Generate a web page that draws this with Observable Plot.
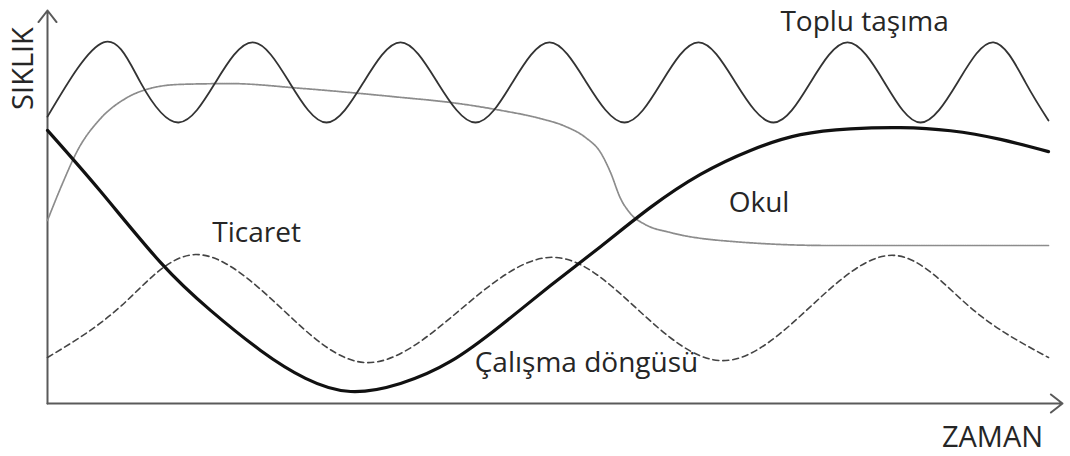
<!DOCTYPE html>
<html>
<head>
<meta charset="utf-8">
<script src="https://cdn.jsdelivr.net/npm/d3@7"></script>
<script src="https://cdn.jsdelivr.net/npm/@observablehq/plot@0.6"></script>
<style>
  html, body { margin: 0; padding: 0; background: #fff; }
  #chart svg { display: block; }
</style>
</head>
<body>
<div id="chart"></div>
<script>
// ---- Data (time on x 0–100, frequency on y 0–100) ----
const seriesNames = ["Toplu taşıma", "Okul", "Ticaret", "Çalışma döngüsü"];
const axisTitles = { y: "SIKLIK", x: "ZAMAN" };

// Toplu taşıma (public transport) – regular oscillation
const topluT = [0, 5.52, 9.16, 12.91, 16.55, 20.20, 23.84, 27.49, 31.13, 34.78, 38.42, 42.17, 45.81, 49.46, 53.10, 56.85, 60.49, 64.14, 67.78, 71.53, 75.17, 78.82, 82.46, 86.01, 89.66, 93.20, 96.35, 98.62];
const topluF = [73.0, 91.9, 81.7, 71.5, 81.7, 91.9, 81.7, 71.5, 81.7, 91.9, 81.7, 71.5, 81.7, 91.9, 81.7, 71.5, 81.7, 91.9, 81.7, 71.5, 81.7, 91.9, 81.7, 71.5, 81.7, 91.9, 81.7, 72.0];

// Okul (school) – rises, plateaus, drops
const okulT = [0, 1.48, 2.96, 5.22, 7.68, 10.15, 13.10, 18.03, 24.93, 34.78, 39.70, 44.63, 48.57, 51.03, 53.00, 54.48, 55.47, 56.45, 57.44, 58.92, 61.38, 67.59, 77.14, 98.62];
const okulF = [46.6, 56.0, 64.4, 72.5, 77.6, 80.2, 81.2, 81.4, 80.2, 77.9, 76.6, 74.6, 72.5, 70.5, 67.7, 63.9, 58.8, 52.2, 48.3, 45.5, 43.5, 41.2, 40.2, 40.2];

// Ticaret (trade) – slower oscillation
const ticaretT = [0, 7.29, 14.58, 23.05, 31.53, 40.59, 49.66, 58.03, 66.50, 74.98, 83.35, 90.94, 98.62];
const ticaretF = [11.7, 24.9, 37.9, 24.2, 10.4, 23.7, 37.2, 24.2, 10.9, 24.2, 37.7, 24.4, 11.7];

// Çalışma döngüsü (work cycle) – long wave
const calismaT = [0, 5.22, 11.13, 16.06, 20.99, 25.42, 29.85, 34.78, 39.70, 44.63, 49.56, 54.48, 59.41, 64.33, 69.26, 74.19, 79.11, 84.04, 88.97, 93.89, 98.62];
const calismaF = [69.5, 54.0, 35.9, 23.7, 13.5, 6.4, 3.05, 5.1, 10.7, 19.8, 30.0, 39.9, 49.9, 58.3, 64.4, 68.4, 69.9, 70.2, 69.4, 67.2, 64.1];

const xDomain = [0, 100];
const yDomain = [0, 100];

// ---- Build tables ----
const zip = (ts, fs) => ts.map((t, i) => ({ t, f: fs[i] }));
const toplu = zip(topluT, topluF);
const okul = zip(okulT, okulF);
const ticaret = zip(ticaretT, ticaretF);
const calisma = zip(calismaT, calismaF);

// Label anchor points (annotation layout, data units)
const labelLayout = [
  { name: seriesNames[0], t: 80.5, f: 97.0 },
  { name: seriesNames[1], t: 70.1, f: 50.9 },
  { name: seriesNames[2], t: 20.6, f: 43.3 },
  { name: seriesNames[3], t: 53.1, f: 10.2 }
];

const axes = [
  { x1: xDomain[0], y1: yDomain[0], x2: xDomain[0], y2: yDomain[1] },
  { x1: xDomain[0], y1: yDomain[0], x2: xDomain[1], y2: yDomain[0] }
];

const textColor = "#262626";
const font = "Open Sans";

const chart = Plot.plot({
  width: 1070,
  height: 456,
  marginLeft: 47,
  marginRight: 8,
  marginTop: 10,
  marginBottom: 53,
  style: { background: "#fff", fontFamily: font },
  x: { domain: xDomain, axis: null },
  y: { domain: yDomain, axis: null },
  marks: [
    Plot.arrow(axes, {
      x1: "x1", y1: "y1", x2: "x2", y2: "y2",
      stroke: "#5a5a5a", strokeWidth: 2, headLength: 11, headAngle: 76
    }),
    Plot.line(okul, {
      x: "t", y: "f", curve: "monotone-x",
      stroke: "#8c8c8c", strokeWidth: 1.7, strokeDasharray: "1.5 0.8"
    }),
    Plot.line(ticaret, {
      x: "t", y: "f", curve: "natural",
      stroke: "#444", strokeWidth: 1.6, strokeDasharray: "6 4"
    }),
    Plot.line(toplu, {
      x: "t", y: "f", curve: "natural",
      stroke: "#333", strokeWidth: 1.8
    }),
    Plot.line(calisma, {
      x: "t", y: "f", curve: "natural",
      stroke: "#111", strokeWidth: 3.2
    }),
    Plot.text(labelLayout, {
      x: "t", y: "f", text: "name",
      fontSize: 28, fill: textColor, textAnchor: "middle", lineAnchor: "middle"
    }),
    Plot.text([axisTitles.y], {
      frameAnchor: "top-left", dx: -24, dy: 58, rotate: -90,
      fontSize: 29, fill: textColor, textAnchor: "middle", lineAnchor: "middle"
    }),
    Plot.text([axisTitles.x], {
      frameAnchor: "bottom-right", dx: -70, dy: 34,
      fontSize: 29, fill: textColor, textAnchor: "middle", lineAnchor: "middle"
    })
  ]
});

document.getElementById("chart").appendChild(chart);
</script>
</body>
</html>
